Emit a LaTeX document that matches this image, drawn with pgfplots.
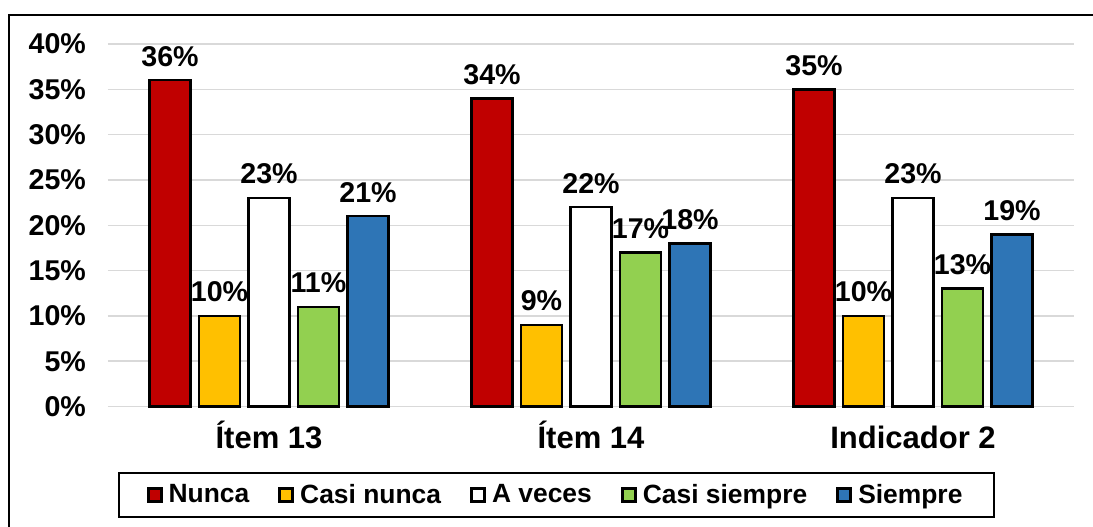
\documentclass[border=0pt]{standalone}
\usepackage{fontspec}
\setmainfont{Liberation Sans}
\usepackage{pgfplots}
\pgfplotsset{compat=1.18}
\definecolor{cRed}{HTML}{C00000}
\definecolor{cYel}{HTML}{FFC000}
\definecolor{cGrn}{HTML}{92D050}
\definecolor{cBlu}{HTML}{2E75B6}
\definecolor{cGrid}{HTML}{D9D9D9}
\begin{document}
\begin{tikzpicture}
\begin{axis}[
  at={(54pt,59.75pt)}, anchor=south west,
  scale only axis, width=483pt, height=181.25pt,
  ybar=4.25pt, bar width=20.5pt,
  legend image code/.code={\draw[#1,line width=1.5pt] (0pt,-3.25pt) rectangle (6.5pt,3.25pt);},
  xmin=-0.5, xmax=2.5, ymin=0, ymax=40,
  xtick={0,1,2}, xticklabels={Ítem 13, Ítem 14, Indicador 2},
  ytick={0,5,...,40},
  /pgf/number format/assume math mode=true,
  yticklabel={\pgfmathprintnumber{\tick}\%},
  yticklabel style={font=\fontsize{14.3pt}{17pt}\selectfont\bfseries, xshift=-7.5pt},
  xticklabel style={font=\fontsize{15.5pt}{18pt}\selectfont\bfseries, anchor=base, yshift=-20.75pt},
  major tick length=0pt,
  ymajorgrids, major grid style={draw=cGrid, line width=0.75pt},
  axis x line*=bottom, axis y line*=left,
  x axis line style={draw=cGrid, line width=0.75pt, -},
  y axis line style={draw=none},
  nodes near coords={\pgfmathprintnumber{\pgfplotspointmeta}\%},
  every node near coord/.append style={font=\fontsize{14.3pt}{17pt}\selectfont\bfseries, black, yshift=3pt},
  legend columns=5,
  legend style={at={(0.4643,-0.244)}, anchor=center, draw=black, line width=1pt,
    font=\fontsize{13.2pt}{16pt}\selectfont\bfseries,
    /tikz/every even column/.append style={column sep=12.5pt},
    /tikz/every odd column/.append style={column sep=1pt},
    inner xsep=14pt, inner ysep=3.5pt},
  clip=false,
]
\addplot[fill=cRed, draw=black, line width=1.2pt] coordinates {(0,36) (1,34) (2,35)};
\addplot[fill=cYel, draw=black, line width=1.2pt] coordinates {(0,10) (1,9) (2,10)};
\addplot[fill=white, draw=black, line width=1.2pt] coordinates {(0,23) (1,22) (2,23)};
\addplot[fill=cGrn, draw=black, line width=1.2pt] coordinates {(0,11) (1,17) (2,13)};
\addplot[fill=cBlu, draw=black, line width=1.2pt] coordinates {(0,21) (1,18) (2,19)};
\legend{Nunca, Casi nunca, A veces, Casi siempre, Siempre}
\end{axis}
\draw[line width=1pt] (4.5pt,-10pt) rectangle (560pt,255.5pt);
\pgfresetboundingbox
\useasboundingbox (0,0) rectangle (546.5pt,263pt);
\end{tikzpicture}
\end{document}
